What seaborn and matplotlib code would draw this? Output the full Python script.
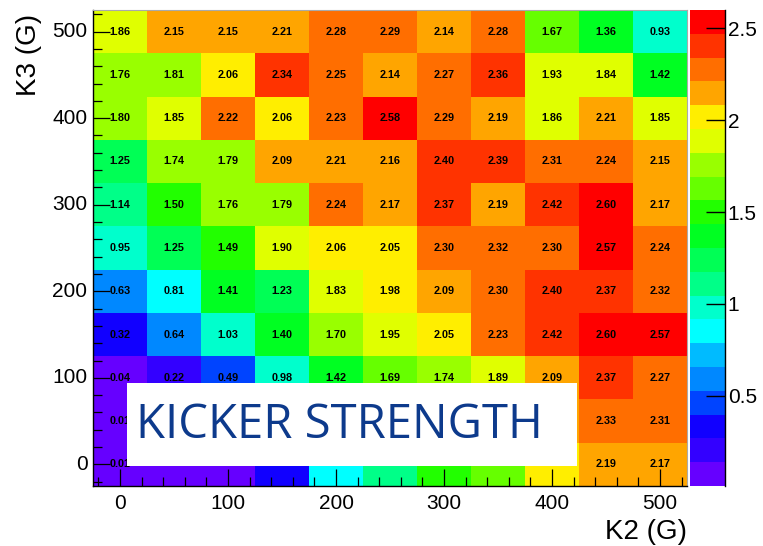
import numpy as np
import pandas as pd
import matplotlib
matplotlib.use("Agg")
import matplotlib.pyplot as plt
from matplotlib.colors import ListedColormap
from matplotlib.patches import Rectangle
from matplotlib.ticker import FixedLocator
import seaborn as sns

# ---- data ----
k2_values = [0, 50, 100, 150, 200, 250, 300, 350, 400, 450, 500]
k3_values = [500, 450, 400, 350, 300, 250, 200, 150, 100, 50, 0]  # top to bottom
row_500 = [1.86, 2.15, 2.15, 2.21, 2.28, 2.29, 2.14, 2.28, 1.67, 1.36, 0.93]
row_450 = [1.76, 1.81, 2.06, 2.34, 2.25, 2.14, 2.27, 2.36, 1.93, 1.84, 1.42]
row_400 = [1.80, 1.85, 2.22, 2.06, 2.23, 2.58, 2.29, 2.19, 1.86, 2.21, 1.85]
row_350 = [1.25, 1.74, 1.79, 2.09, 2.21, 2.16, 2.40, 2.39, 2.31, 2.24, 2.15]
row_300 = [1.14, 1.50, 1.76, 1.79, 2.24, 2.17, 2.37, 2.19, 2.42, 2.60, 2.17]
row_250 = [0.95, 1.25, 1.49, 1.90, 2.06, 2.05, 2.30, 2.32, 2.30, 2.57, 2.24]
row_200 = [0.63, 0.81, 1.41, 1.23, 1.83, 1.98, 2.09, 2.30, 2.40, 2.37, 2.32]
row_150 = [0.32, 0.64, 1.03, 1.40, 1.70, 1.95, 2.05, 2.23, 2.42, 2.60, 2.57]
row_100 = [0.04, 0.22, 0.49, 0.98, 1.42, 1.69, 1.74, 1.89, 2.09, 2.37, 2.27]
row_50 = [0.01, 0.08, 0.25, 0.55, 1.05, 1.35, 1.55, 1.75, 2.15, 2.33, 2.31]
row_0 = [0.01, 0.05, 0.10, 0.35, 0.85, 1.12, 1.50, 1.65, 2.02, 2.19, 2.17]
rows = [row_500, row_450, row_400, row_350, row_300, row_250,
        row_200, row_150, row_100, row_50, row_0]
x_tick_labels = ["0", "100", "200", "300", "400", "500"]
y_tick_labels = ["0", "100", "200", "300", "400", "500"]
cbar_ticks = [0.5, 1.0, 1.5, 2.0, 2.5]
cbar_tick_labels = ["0.5", "1", "1.5", "2", "2.5"]

df = pd.DataFrame(rows, index=k3_values, columns=k2_values)

palette = ["#6600ff", "#3300ff", "#1100ff", "#0044ff", "#0088ff",
           "#00bbff", "#00ffff", "#00ffcc", "#00ff88", "#00ff55",
           "#00ff22", "#22ff00", "#66ff00", "#99ff00", "#e0ff00",
           "#ffee00", "#ffa500", "#ff6e00", "#ff3300", "#ff0000"]
cmap = ListedColormap(palette)

W, H = 763, 546
fig = plt.figure(figsize=(W / 100, H / 100), dpi=100)
ax = fig.add_axes([93 / W, 1 - 486 / H, 594 / W, 476 / H])
cax = fig.add_axes([690 / W, 1 - 486 / H, 35 / W, 476 / H])

font = "Liberation Sans"

sns.heatmap(df, ax=ax, cbar_ax=cax, cmap=cmap, vmin=0.01, vmax=2.5986,
            annot=True, fmt=".2f",
            annot_kws={"size": 7.8, "weight": "bold", "color": "black",
                       "family": font},
            linewidths=0)

# annotations fully hidden behind the label box are not drawn
for t in ax.texts:
    x, y = t.get_position()
    col = int(x)
    row = int(y)
    if row >= 9 and 1 <= col <= 8:
        t.set_visible(False)

def xpos(v):
    return v / 50 + 0.5

def ypos(v):
    return (500 - v) / 50 + 0.5

ax.xaxis.set_major_locator(FixedLocator([xpos(float(t)) for t in x_tick_labels]))
ax.set_xticklabels(x_tick_labels, rotation=0, fontsize=15, family=font)
ax.xaxis.set_minor_locator(FixedLocator([xpos(v) for v in range(-20, 540, 20)]))
ax.yaxis.set_major_locator(FixedLocator([ypos(float(t)) for t in y_tick_labels]))
ax.set_yticklabels(y_tick_labels, rotation=0, fontsize=15, family=font)
ax.yaxis.set_minor_locator(FixedLocator([ypos(v) for v in range(-20, 540, 20)]))

ax.tick_params(which="both", direction="in", top=False, right=False,
               color="black", width=0.9)
ax.tick_params(which="major", length=12)
ax.tick_params(which="minor", length=6.5)
ax.tick_params(axis="x", which="major", pad=6)
ax.tick_params(axis="y", which="major", pad=4)

ax.set_xlabel("")
ax.set_ylabel("")
for name, s in ax.spines.items():
    s.set_visible(True)
    if name in ("left", "bottom"):
        s.set_color("black")
        s.set_linewidth(1.0)
    else:
        s.set_color("#aaaaaa")
        s.set_linewidth(0.8)

fig.text(687 / W, 1 - 545 / H, "K2 (G)", ha="right", va="bottom",
         fontsize=20, family=font)
fig.text(16 / W, 1 - 14 / H, "K3 (G)", ha="left", va="top", rotation=90,
         fontsize=20, family=font)

# colorbar
cbar = ax.collections[0].colorbar
cbar.outline.set_visible(False)
cbar.set_ticks(cbar_ticks)
cbar.set_ticklabels(cbar_tick_labels)
cax.tick_params(which="both", direction="in", length=14, width=1.0,
                right=True, left=False, labelsize=15, pad=2, color="black")
cax.minorticks_off()
for lbl in cax.get_yticklabels():
    lbl.set_family(font)
cax.plot([1, 1], [0, 1], transform=cax.transAxes, color="black", lw=1.0,
         clip_on=False)

# overlay label box
fig.add_artist(Rectangle((127 / W, 1 - 466 / H), 450 / W, 83 / H,
                         transform=fig.transFigure, facecolor="white",
                         edgecolor="none", zorder=5))
fig.text(339 / W, 1 - 425 / H, "KICKER STRENGTH", ha="center", va="center",
         fontsize=34, color="#0d3a8c", family="Open Sans", zorder=6)

fig.savefig("out.png", dpi=100)
